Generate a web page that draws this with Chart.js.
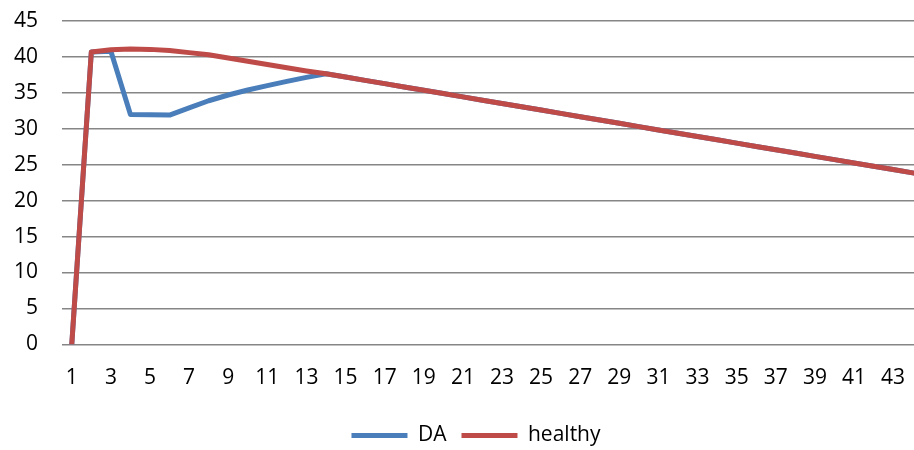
<!DOCTYPE html>
<html>
<head>
<meta charset="utf-8">
<script src="https://cdn.jsdelivr.net/npm/chart.js@4"></script>
<style>
  html, body { margin: 0; padding: 0; background: #fff; overflow: hidden; }
  #wrap { width: 952px; height: 450px; }
</style>
</head>
<body>
<div id="wrap"><canvas id="lineChart"></canvas></div>
<script>
// categories 1..45 (the source chart is cropped on the right)
const categories = [];
for (let i = 1; i <= 45; i++) categories.push(String(i));

const daValues = [
  0, 40.7, 40.8, 32.0, 31.95, 31.9, 32.9, 33.9, 34.7, 35.4,
  36.0, 36.6, 37.15, 37.65, 37.2, 36.74, 36.28, 35.82, 35.36, 34.9,
  34.44, 33.98, 33.52, 33.06, 32.6, 32.14, 31.68, 31.22, 30.76, 30.3,
  29.84, 29.38, 28.92, 28.46, 28.0, 27.54, 27.08, 26.62, 26.16, 25.7,
  25.24, 24.78, 24.32, 23.86, 23.4
];

const healthyValues = [
  0, 40.7, 41.0, 41.1, 41.05, 40.9, 40.6, 40.3, 39.85, 39.4,
  38.95, 38.5, 38.05, 37.65, 37.2, 36.74, 36.28, 35.82, 35.36, 34.9,
  34.44, 33.98, 33.52, 33.06, 32.6, 32.14, 31.68, 31.22, 30.76, 30.3,
  29.84, 29.38, 28.92, 28.46, 28.0, 27.54, 27.08, 26.62, 26.16, 25.7,
  25.24, 24.78, 24.32, 23.86, 23.4
];

const yMin = 0, yMax = 45, yStep = 5;

const FONT = { family: '"Open Sans", sans-serif', size: 21 };

const ctx = document.getElementById('lineChart').getContext('2d');
const chart = new Chart(ctx, {
    type: 'line',
    data: {
        labels: categories,
        datasets: [{
            label: 'DA',
            data: daValues,
            borderColor: 'rgb(74, 126, 187)',
            backgroundColor: 'rgb(74, 126, 187)',
            borderWidth: 5,
            borderCapStyle: 'round',
            borderJoinStyle: 'round',
            pointRadius: 0,
            tension: 0,
            order: 1
        }, {
            label: 'healthy',
            data: healthyValues,
            borderColor: 'rgb(190, 75, 72)',
            backgroundColor: 'rgb(190, 75, 72)',
            borderWidth: 5,
            borderCapStyle: 'round',
            borderJoinStyle: 'round',
            pointRadius: 0,
            tension: 0,
            order: 0
        }]
    },
    options: {
        responsive: true,
        maintainAspectRatio: false,
        animation: false,
        layout: { padding: { left: 10, right: 10, top: 21, bottom: -6 } },
        plugins: {
            tooltip: { enabled: false },
            legend: {
                position: 'bottom',
                labels: {
                    usePointStyle: true,
                    pointStyle: 'line',
                    pointStyleWidth: 56,
                    boxHeight: 21,
                    padding: 15,
                    color: '#000',
                    font: FONT,
                    sort: (a, b) => a.datasetIndex - b.datasetIndex
                }
            }
        },
        scales: {
            x: {
                offset: true,
                grid: { display: false },
                border: { display: false },
                ticks: {
                    autoSkip: false,
                    maxRotation: 0,
                    padding: 13,
                    color: '#000',
                    font: FONT,
                    callback: (v, i) => i % 2 === 0 ? categories[i] : ''
                },
                afterFit: (s) => { s.paddingLeft = 0; s.paddingRight = 0; s.height += 6.5; }
            },
            y: {
                min: yMin,
                max: yMax,
                grid: { color: 'rgb(134, 134, 134)', lineWidth: 1.5, drawTicks: false },
                border: { display: false },
                ticks: {
                    stepSize: yStep,
                    padding: 24,
                    color: '#000',
                    font: FONT
                },
                afterFit: (s) => { s.paddingTop = 0; s.paddingBottom = 0; s.width = 52; }
            }
        }
    }
});
</script>
</body>
</html>
